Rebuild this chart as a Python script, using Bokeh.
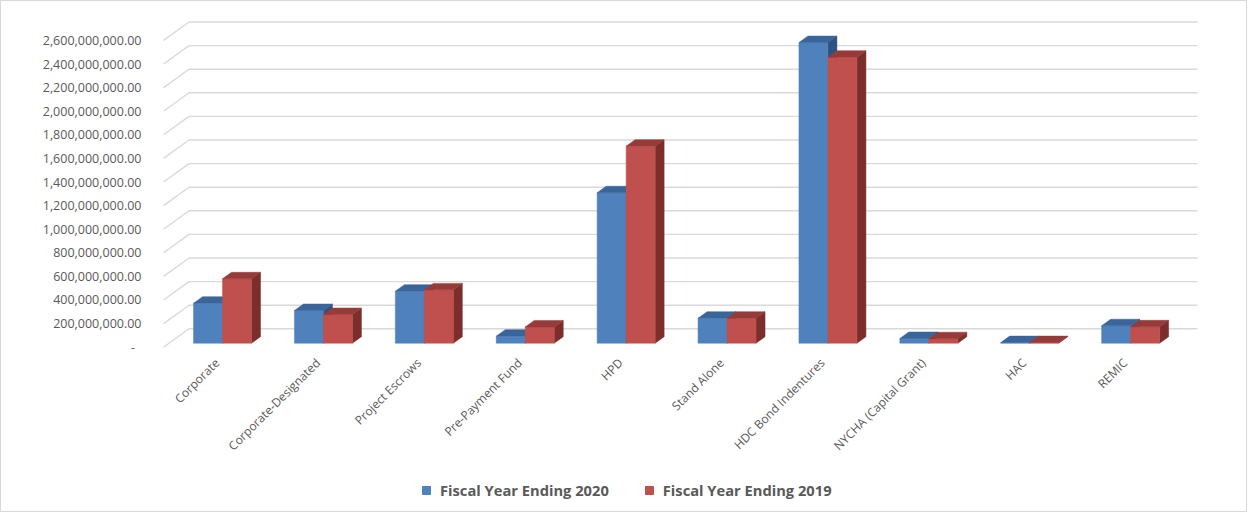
import math
from bokeh.plotting import figure
from bokeh.layouts import column
from bokeh.models import (Range1d, FixedTicker, NumeralTickFormatter, Legend, LegendItem)
from bokeh.embed import file_html
from bokeh.resources import INLINE

# ---------------- data ----------------
categories = ["Corporate", "Corporate-Designated", "Project Escrows", "Pre-Payment Fund",
              "HPD", "Stand Alone", "HDC Bond Indentures", "NYCHA (Capital Grant)",
              "HAC", "REMIC"]
fy2020 = [339e6, 277e6, 441e6, 60e6, 1275e6, 212e6, 2548e6, 40e6, 5e6, 148e6]
fy2019 = [546e6, 243e6, 452e6, 138e6, 1670e6, 212e6, 2424e6, 38e6, 5e6, 139e6]
series_names = ["Fiscal Year Ending 2020", "Fiscal Year Ending 2019"]
y_ticks = list(range(0, 2_600_000_001, 200_000_000))

# ---------------- 3D projection constants ----------------
PX_PER_CAT = 100.9
PX_PER_Y = 23.6 / 200e6
DX = 25.5 / PX_PER_CAT          # depth offset (x, data units) from front to back wall
DY = 18.4 / PX_PER_Y            # depth offset (y, data units)
D1, D2 = 0.217, 0.57            # bar front / back depth
BAR_W = 0.2874
WALL_L, WALL_R = -0.53, 9.465

FACE = {0: ("#4F81BD", "#3A659A", "#2D5282"), 1: ("#C0504D", "#963B39", "#7C2E2C")}
GRID = "#D9D9D9"
TXT = "#595959"

p = figure(frame_width=1042, frame_height=332,
           min_border_left=157, min_border_right=46, min_border_top=17, min_border_bottom=125,
           x_range=Range1d(-0.5798, 9.7473), y_range=Range1d(-27.97e6, 2785.6e6),
           output_backend="svg", toolbar_location=None)
p.outline_line_color = None
p.background_fill_color = "white"
p.border_fill_color = "white"
p.xgrid.visible = False
p.ygrid.visible = False

# walls gridlines
gx0, gy0, gx1, gy1 = [], [], [], []
for v in y_ticks:
    gx0.append(WALL_L); gy0.append(v); gx1.append(WALL_L + DX); gy1.append(v + DY)
    gx0.append(WALL_L + DX); gy0.append(v + DY); gx1.append(WALL_R + DX); gy1.append(v + DY)
p.segment(x0=gx0, y0=gy0, x1=gx1, y1=gy1, line_color=GRID, line_width=1.4)

for s, vals in enumerate([fy2020, fy2019]):
    fl, fr, fb, ft = [], [], [], []
    tx, ty, sx, sy = [], [], [], []
    for i, v in enumerate(vals):
        xl = i + (s - 1) * BAR_W
        xr = xl + BAR_W
        fl.append(xl + D1 * DX); fr.append(xr + D1 * DX)
        fb.append(D1 * DY); ft.append(v + D1 * DY)
        tx.append([xl + D1 * DX, xr + D1 * DX, xr + D2 * DX, xl + D2 * DX])
        ty.append([v + D1 * DY, v + D1 * DY, v + D2 * DY, v + D2 * DY])
        sx.append([xr + D1 * DX, xr + D1 * DX, xr + D2 * DX, xr + D2 * DX])
        sy.append([D1 * DY, v + D1 * DY, v + D2 * DY, D2 * DY])
    front_c, top_c, side_c = FACE[s]
    p.patches(xs=sx, ys=sy, fill_color=side_c, line_color=side_c, line_width=0.5)
    p.quad(left=fl, right=fr, bottom=fb, top=ft, fill_color=front_c,
           line_color=front_c, line_width=0.5)
    p.patches(xs=tx, ys=ty, fill_color=top_c, line_color=top_c, line_width=0.5)

# axes
p.yaxis.ticker = FixedTicker(ticks=y_ticks)
p.yaxis.formatter = NumeralTickFormatter(format="0,0.00")
p.yaxis.major_label_overrides = {0: "-\u00a0\u00a0"}
p.yaxis.axis_line_color = None
p.yaxis.major_tick_line_color = None
p.yaxis.minor_tick_line_color = None
p.yaxis.major_label_standoff = 11
p.yaxis.major_label_text_font = "Open Sans"
p.yaxis.major_label_text_font_size = "12.5px"
p.yaxis.major_label_text_color = TXT

p.xaxis.ticker = FixedTicker(ticks=list(range(len(categories))))
p.xaxis.major_label_overrides = {i: c for i, c in enumerate(categories)}
p.xaxis.major_label_orientation = math.pi / 4
p.xaxis.axis_line_color = None
p.xaxis.major_tick_line_color = None
p.xaxis.minor_tick_line_color = None
p.xaxis.major_label_standoff = 4
p.xaxis.major_label_text_font = "Open Sans"
p.xaxis.major_label_text_font_size = "12px"
p.xaxis.major_label_text_color = TXT

# legend strip
p2 = figure(width=1245, height=36, min_border=0, x_range=Range1d(0, 1), y_range=Range1d(0, 1),
            output_backend="svg", toolbar_location=None)
p2.axis.visible = False
p2.grid.visible = False
p2.outline_line_color = None
p2.border_fill_color = "white"
leg_r = []
for s in range(2):
    # swatch source kept outside the visible range: only its legend glyph shows
    leg_r.append(p2.quad(left=[5], right=[6], bottom=[5], top=[6], fill_color=FACE[s][0],
                         line_color=FACE[s][0]))
legend = Legend(items=[LegendItem(label=series_names[k], renderers=[leg_r[k]]) for k in range(2)],
                location=(263, 11), orientation="horizontal",
                label_text_font="Open Sans", label_text_font_style="bold",
                label_text_font_size="14.7px", label_text_color=TXT,
                glyph_width=10, glyph_height=10, label_standoff=9, spacing=35,
                padding=0, margin=0, border_line_color=None, background_fill_alpha=0)
p2.add_layout(legend)

layout = column(p, p2, spacing=0, styles={"border": "1px solid #D9D9D9"})
open("out.html", "w").write(file_html(layout, INLINE))
